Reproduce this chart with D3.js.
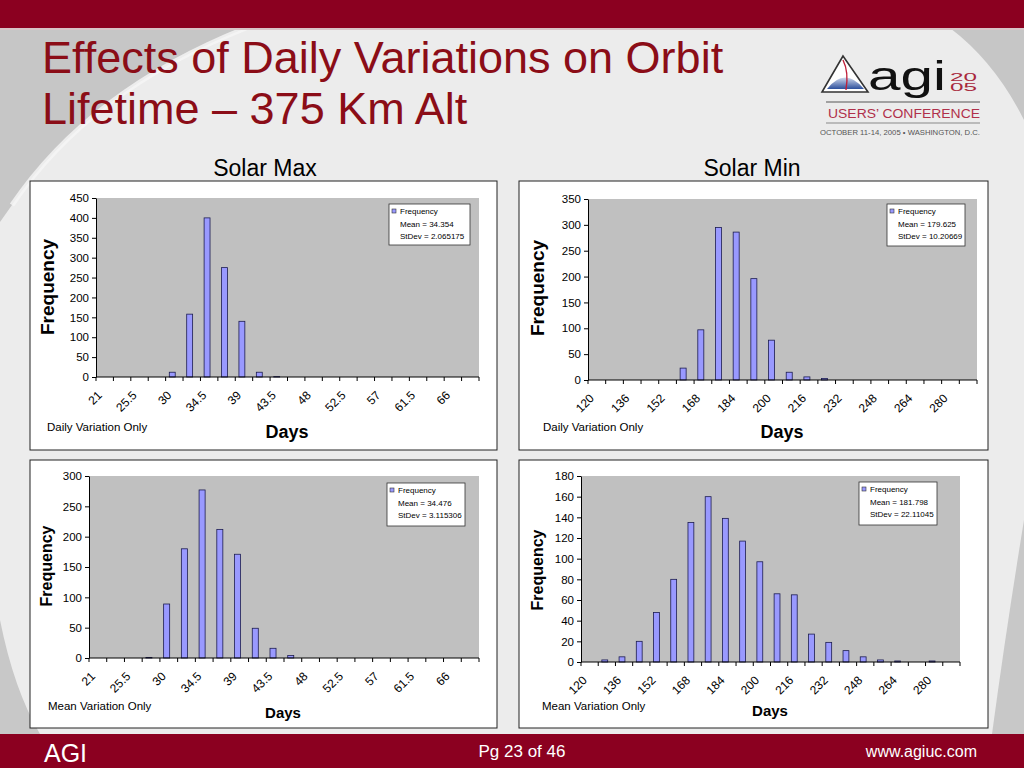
<!DOCTYPE html>
<html>
<head>
<meta charset="utf-8">
<script src="https://cdn.jsdelivr.net/npm/d3@7"></script>
<style>
  html, body { margin: 0; padding: 0; background: #ececec; }
  svg { display: block; font-family: "Liberation Sans", Arial, sans-serif; }
</style>
</head>
<body>
<script>
// bins (Days) for the Solar Max and Solar Min histograms
const maxCats = [21, 23.25, 25.5, 27.75, 30, 32.25, 34.5, 36.75, 39, 41.25, 43.5, 45.75,
  48, 50.25, 52.5, 54.75, 57, 59.25, 61.5, 63.75, 66, 68.25];
const minCats = [120, 128, 136, 144, 152, 160, 168, 176, 184, 192, 200, 208,
  216, 224, 232, 240, 248, 256, 264, 272, 280, 288];
const maxLabels = [21, 25.5, 30, 34.5, 39, 43.5, 48, 52.5, 57, 61.5, 66];
const minLabels = [120, 136, 152, 168, 184, 200, 216, 232, 248, 264, 280];

// frequencies
const maxDaily = [0, 0, 0, 0, 12, 158, 400, 275, 140, 12, 1, 0, 0, 0, 0, 0, 0, 0, 0, 0, 0, 0];
const minDaily = [0, 0, 0, 0, 0, 23, 97, 295, 286, 196, 77, 15, 6, 3, 0, 0, 0, 0, 0, 0, 0, 0];
const maxMean = [0, 0, 0, 1, 89, 180, 277, 212, 171, 49, 16, 4, 0, 0, 0, 0, 0, 0, 0, 0, 0, 0];
const minMean = [0, 2, 5, 20, 48, 80, 135, 160, 139, 117, 97, 66, 65, 27, 19, 11, 5, 2, 1, 0, 1, 0];

const yTicksMaxDaily = [0, 50, 100, 150, 200, 250, 300, 350, 400, 450];
const yTicksMinDaily = [0, 50, 100, 150, 200, 250, 300, 350];
const yTicksMaxMean = [0, 50, 100, 150, 200, 250, 300];
const yTicksMinMean = [0, 20, 40, 60, 80, 100, 120, 140, 160, 180];

const means = ['34.354', '179.625', '34.476', '181.798'];
const stdevs = ['2.065175', '10.20669', '3.115306', '22.11045'];
const notes = ['Daily Variation Only', 'Daily Variation Only', 'Mean Variation Only', 'Mean Variation Only'];

const red = '#8b0020';

const svg = d3.select('body').append('svg')
    .attr('width', 1024)
    .attr('height', 768);

// slide background
svg.append('rect').attr('width', 1024).attr('height', 768).attr('fill', '#ececec');
svg.append('path').attr('d', 'M0,28 L246,28 Q90,90 12,205 L0,222 Z').attr('fill', '#c6c6c6');
svg.append('path').attr('d', 'M246,28 Q90,90 12,205').attr('fill', 'none')
    .attr('stroke', '#f6f6f6').attr('stroke-width', 5).attr('opacity', 0.8);
svg.append('path').attr('d', 'M950,28 L1024,28 L1024,120 Q995,62 950,28 Z').attr('fill', '#c6c6c6');
svg.append('path').attr('d', 'M1024,520 Q1006,630 992,734 L1024,734 Z').attr('fill', '#c8c8c8');
svg.append('path').attr('d', 'M0,620 Q14,690 40,734 L0,734 Z').attr('fill', '#c8c8c8');

svg.append('rect').attr('width', 1024).attr('height', 28).attr('fill', red);
svg.append('rect').attr('y', 28).attr('width', 1024).attr('height', 2).attr('fill', '#d8c4c8');
svg.append('rect').attr('y', 734).attr('width', 1024).attr('height', 34).attr('fill', red);

// title
svg.append('text').attr('x', 42).attr('y', 73)
    .attr('font-size', 45).attr('fill', '#8b0d17')
    .text('Effects of Daily Variations on Orbit');
svg.append('text').attr('x', 42).attr('y', 124)
    .attr('font-size', 45).attr('fill', '#8b0d17')
    .text('Lifetime \u2013 375 Km Alt');

svg.append('text').attr('x', 265).attr('y', 176).attr('text-anchor', 'middle')
    .attr('font-size', 23).attr('fill', '#000').text('Solar Max');
svg.append('text').attr('x', 752).attr('y', 176).attr('text-anchor', 'middle')
    .attr('font-size', 23).attr('fill', '#000').text('Solar Min');

// footer
svg.append('text').attr('x', 44).attr('y', 762).attr('font-size', 25).attr('fill', '#fff').text('AGI');
svg.append('text').attr('x', 522).attr('y', 757).attr('text-anchor', 'middle')
    .attr('font-size', 17).attr('fill', '#fff').text('Pg 23 of 46');
svg.append('text').attr('x', 977).attr('y', 757).attr('text-anchor', 'end')
    .attr('font-size', 16).attr('fill', '#fff').text('www.agiuc.com');

// conference logo
const logo = svg.append('g');
const grad = svg.append('defs').append('linearGradient')
    .attr('id', 'dome').attr('x1', 0).attr('y1', 0).attr('x2', 0).attr('y2', 1);
grad.append('stop').attr('offset', 0).attr('stop-color', '#cfd8ec');
grad.append('stop').attr('offset', 1).attr('stop-color', '#2c4f9c');
logo.append('path').attr('d', 'M843,56 L822,92 L868,92 Z')
    .attr('fill', '#fff').attr('stroke', '#333').attr('stroke-width', 1.6);
logo.append('path').attr('d', 'M827,89 Q845,66 864,89 Z').attr('fill', 'url(#dome)');
logo.append('path').attr('d', 'M843,60 Q849,72 846,90').attr('fill', 'none')
    .attr('stroke', '#c0203a').attr('stroke-width', 1.4);
logo.append('text').attr('x', 868).attr('y', 90).attr('font-size', 40)
    .attr('textLength', 78).attr('lengthAdjust', 'spacingAndGlyphs').attr('fill', '#111').text('agi');
logo.append('text').attr('x', 950).attr('y', 81).attr('font-size', 11)
    .attr('textLength', 27).attr('lengthAdjust', 'spacingAndGlyphs').attr('fill', '#a8283c').text('20');
logo.append('text').attr('x', 950).attr('y', 91).attr('font-size', 11)
    .attr('textLength', 27).attr('lengthAdjust', 'spacingAndGlyphs').attr('fill', '#a8283c').text('05');
logo.append('line').attr('x1', 826).attr('x2', 980).attr('y1', 102).attr('y2', 102)
    .attr('stroke', '#888').attr('stroke-width', 1.4);
logo.append('text').attr('x', 828).attr('y', 118).attr('font-size', 12.5)
    .attr('textLength', 152).attr('lengthAdjust', 'spacingAndGlyphs').attr('fill', '#b0304a')
    .text('USERS\u2019 CONFERENCE');
logo.append('line').attr('x1', 826).attr('x2', 980).attr('y1', 123).attr('y2', 123)
    .attr('stroke', '#888').attr('stroke-width', 1.2);
logo.append('text').attr('x', 820).attr('y', 135).attr('font-size', 7)
    .attr('textLength', 160).attr('lengthAdjust', 'spacingAndGlyphs').attr('fill', '#555')
    .text('OCTOBER 11-14, 2005 \u2022 WASHINGTON, D.C.');

// chart panels
const charts = [
    { box: [30, 181, 467, 269], plot: [96, 198, 479, 377], cats: maxCats, labels: maxLabels, vals: maxDaily,
      yTicks: yTicksMaxDaily, legend: [389, 204, 81, 41], titleSize: 19,
      freq: [47, 287], days: [287, 438], note: [47, 431] },
    { box: [519, 181, 469, 269], plot: [588, 199, 977, 380], cats: minCats, labels: minLabels, vals: minDaily,
      yTicks: yTicksMinDaily, legend: [887, 204, 78, 42], titleSize: 19,
      freq: [537, 288], days: [782, 438], note: [543, 431] },
    { box: [30, 460, 467, 268], plot: [89, 476, 479, 658], cats: maxCats, labels: maxLabels, vals: maxMean,
      yTicks: yTicksMaxMean, legend: [387, 483, 78, 43], titleSize: 16,
      freq: [46, 566], days: [283, 718], note: [48, 710] },
    { box: [519, 460, 469, 268], plot: [581, 476, 960, 662], cats: minCats, labels: minLabels, vals: minMean,
      yTicks: yTicksMinMean, legend: [859, 482, 78, 43], titleSize: 16,
      freq: [537, 570], days: [770, 716], note: [542, 710] }
];

charts.forEach((c, i) => drawChart(c, i));

function drawChart(c, i) {
    const g = svg.append('g');
    const [x0, y1, x1, y0] = c.plot;

    g.append('rect')
        .attr('x', c.box[0]).attr('y', c.box[1])
        .attr('width', c.box[2]).attr('height', c.box[3])
        .attr('fill', '#fff').attr('stroke', '#222').attr('stroke-width', 1);

    const x = d3.scaleBand().domain(c.cats).range([x0, x1]).padding(0);
    const y = d3.scaleLinear().domain([0, d3.max(c.yTicks)]).range([y0, y1]);

    g.append('rect')
        .attr('x', x0).attr('y', y1)
        .attr('width', x1 - x0).attr('height', y0 - y1)
        .attr('fill', '#c0c0c0');

    // y axis
    const yAxis = g.append('g')
        .attr('transform', `translate(${x0},0)`)
        .call(d3.axisLeft(y).tickValues(c.yTicks).tickSize(4).tickSizeOuter(0).tickPadding(3));
    yAxis.select('.domain').attr('stroke', '#000');
    yAxis.selectAll('.tick line').attr('stroke', '#000');
    yAxis.selectAll('text').attr('font-size', 11.5).attr('fill', '#000')
        .attr('font-family', '"Liberation Sans", Arial, sans-serif');

    // bars (sit a little left of the bin centre, as in the original)
    const bw = x.bandwidth() * 0.34;
    g.selectAll('.bar')
        .data(c.cats.map((cat, k) => ({ cat, v: c.vals[k] })).filter(d => d.v > 0))
        .enter().append('rect')
        .attr('class', 'bar')
        .attr('x', d => x(d.cat) + x.bandwidth() * 0.38 - bw / 2)
        .attr('y', d => y(d.v))
        .attr('width', bw)
        .attr('height', d => y0 - y(d.v))
        .attr('fill', '#9999ff')
        .attr('stroke', '#1c1c50')
        .attr('stroke-width', 0.8);

    // x axis, ticks between categories
    g.append('line').attr('x1', x0).attr('x2', x1).attr('y1', y0).attr('y2', y0)
        .attr('stroke', '#000');
    const edges = c.cats.map(cat => x(cat)).concat([x1]);
    g.selectAll('.xtick').data(edges).enter().append('line')
        .attr('x1', d => d).attr('x2', d => d)
        .attr('y1', y0).attr('y2', y0 + 4)
        .attr('stroke', '#000');
    g.selectAll('.xlab').data(c.labels).enter().append('text')
        .attr('transform', d => `translate(${x(d) + x.bandwidth() / 2 - 2},${y0 + 19}) rotate(-45)`)
        .attr('text-anchor', 'end')
        .attr('font-size', 12)
        .text(d => d);

    // legend
    const [lx, ly, lw, lh] = c.legend;
    g.append('rect').attr('x', lx).attr('y', ly).attr('width', lw).attr('height', lh)
        .attr('fill', '#fff').attr('stroke', '#333').attr('stroke-width', 0.8);
    g.append('rect').attr('x', lx + 3).attr('y', ly + 5).attr('width', 4).attr('height', 4)
        .attr('fill', '#9999ff').attr('stroke', '#333').attr('stroke-width', 0.6);
    const legendLines = ['Frequency', 'Mean = ' + means[i], 'StDev = ' + stdevs[i]];
    g.selectAll('.leg').data(legendLines).enter().append('text')
        .attr('x', lx + 11)
        .attr('y', (d, k) => ly + 10 + k * 12.5)
        .attr('font-size', 8)
        .text(d => d);

    // titles
    g.append('text')
        .attr('transform', `translate(${c.freq[0]},${c.freq[1]}) rotate(-90)`)
        .attr('text-anchor', 'middle').attr('dominant-baseline', 'central')
        .attr('font-size', c.titleSize).attr('font-weight', 'bold')
        .text('Frequency');
    g.append('text').attr('x', c.days[0]).attr('y', c.days[1])
        .attr('text-anchor', 'middle')
        .attr('font-size', c.titleSize - 1).attr('font-weight', 'bold')
        .text('Days');
    g.append('text').attr('x', c.note[0]).attr('y', c.note[1])
        .attr('font-size', 11.5)
        .text(notes[i]);
}
</script>
</body>
</html>
